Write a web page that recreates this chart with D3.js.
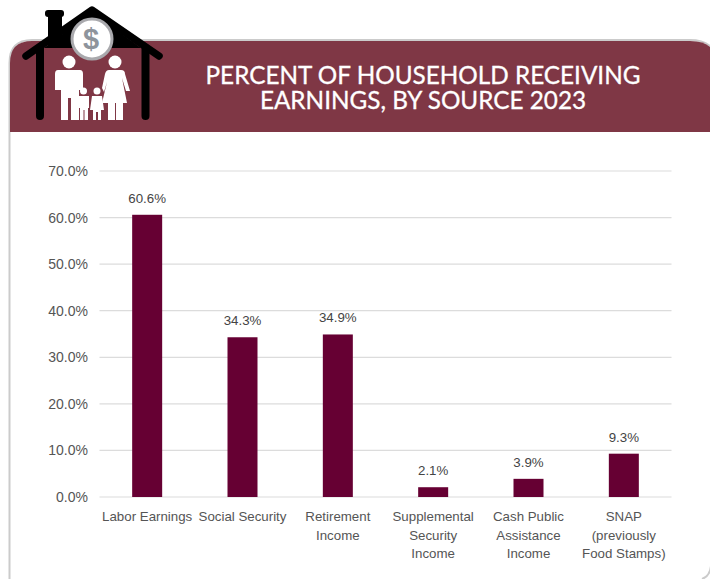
<!DOCTYPE html>
<html>
<head>
<meta charset="utf-8">
<script src="https://cdn.jsdelivr.net/npm/d3@7"></script>
<style>
  html, body { margin: 0; padding: 0; background: #fff; }
  svg { display: block; }
  text { font-family: "Liberation Sans", Arial, sans-serif; }
</style>
</head>
<body>
<div id="chart"></div>
<script>
const categories = [
  ["Labor Earnings"],
  ["Social Security"],
  ["Retirement", "Income"],
  ["Supplemental", "Security", "Income"],
  ["Cash Public", "Assistance", "Income"],
  ["SNAP", "(previously", "Food Stamps)"]
];
const values = [60.6, 34.3, 34.9, 2.1, 3.9, 9.3];
const yTicks = [0, 10, 20, 30, 40, 50, 60, 70];
const titleLines = ["PERCENT OF HOUSEHOLD RECEIVING", "EARNINGS, BY SOURCE 2023"];

const W = 710, H = 579;
const svg = d3.select("#chart").append("svg").attr("width", W).attr("height", H);

// Card with a rounded outline and a maroon header band
const cardPath = "M9.5,579 V63 Q9.5,40 32,40 H690 Q704,40 711,47 V566 Q710,576 702,579";
svg.append("path").attr("d", cardPath).attr("fill", "#fff").attr("stroke", "#cbcbcb").attr("stroke-width", 2);
svg.append("path")
  .attr("d", "M10,132 V63 Q10,41 32,41 H690 Q704,41 710,47 V132 Z")
  .attr("fill", "#7f3745");

svg.append("g").selectAll("text").data(titleLines).join("text")
  .attr("x", 423)
  .attr("y", (d, i) => 84 + i * 25)
  .attr("text-anchor", "middle")
  .attr("font-size", 24.3)
  .attr("fill", "#fff")
  .attr("stroke", "#fff")
  .attr("stroke-width", 0.3)
  .style("font-family", "Lato, sans-serif")
  .text(d => d);

// House and family emblem
const icon = svg.append("g");
icon.append("path")
  .attr("d", "M26,56 L92,10 L159,56")
  .attr("fill", "none").attr("stroke", "#000").attr("stroke-width", 7.5)
  .attr("stroke-linecap", "round").attr("stroke-linejoin", "round");
icon.append("path")
  .attr("d", "M44,48 L92,12 L141,48 H44 Z M48,15 H62 V38 L48,48 Z")
  .attr("fill", "#000");
icon.append("rect").attr("x", 45).attr("y", 10).attr("width", 19).attr("height", 7).attr("rx", 3).attr("fill", "#000");
icon.append("path").attr("d", "M40,48 V116 M145.5,48 V116")
  .attr("stroke", "#000").attr("stroke-width", 8).attr("stroke-linecap", "round");
icon.append("circle").attr("cx", 92).attr("cy", 39).attr("r", 20)
  .attr("fill", "#fff").attr("stroke", "#a9a9ad").attr("stroke-width", 3);
icon.append("text").attr("x", 91).attr("y", 49).attr("text-anchor", "middle")
  .attr("font-size", 29).attr("font-weight", 700).attr("fill", "#8e949c").text("$");

const family = icon.append("g").attr("fill", "#fff");
family.append("circle").attr("cx", 69).attr("cy", 62).attr("r", 6.5);
family.append("path").attr("d", "M58,70 H80 Q83,70 83,74 V90 H79 V120 H71 V98 H68 V120 H61 V90 H55 V74 Q55,70 58,70 Z");
family.append("circle").attr("cx", 115).attr("cy", 62).attr("r", 6.5);
family.append("path").attr("d", "M109,70 H121 Q125,70 125,74 L130,91 H126 L122,78 L127,103 H123 V120 H116 V103 H115 V120 H108 V103 H102 L107,82 L104,92 L102,88 L105,74 Q106,70 109,70 Z");
family.append("circle").attr("cx", 83.5).attr("cy", 91).attr("r", 3.5);
family.append("path").attr("d", "M78,96 H89 V108 H88 V120 H84.5 V110 H83.5 V120 H80 V108 H78 Z");
family.append("circle").attr("cx", 97).attr("cy", 91).attr("r", 3.5);
family.append("path").attr("d", "M92,96 H102 L104,110 H101 V120 H98 V112 H96 V120 H93 V110 H90 Z");

// Chart scales
const x = d3.scaleBand().domain(d3.range(values.length)).range([99.5, 671.5]);
const y = d3.scaleLinear().domain([0, 70]).range([497, 171]);
const barWidth = 30;

const grid = svg.append("g");
grid.selectAll("line").data(yTicks).join("line")
  .attr("x1", x.range()[0]).attr("x2", x.range()[1])
  .attr("y1", d => y(d)).attr("y2", d => y(d))
  .attr("stroke", "#dcdcdc").attr("stroke-width", 1.2);

const axisLabels = d3.axisLeft(y).tickValues(yTicks).tickSize(0).tickPadding(0)
  .tickFormat(d => d3.format(".1f")(d) + "%");
const yAxis = svg.append("g").attr("transform", "translate(88,0)").call(axisLabels);
yAxis.select(".domain").remove();
yAxis.selectAll("text")
  .attr("font-size", 14).attr("fill", "#555").style("font-family", "Liberation Sans, Arial, sans-serif");

svg.append("g").selectAll("rect").data(values).join("rect")
  .attr("x", (d, i) => x(i) + x.bandwidth() / 2 - barWidth / 2)
  .attr("y", d => y(d))
  .attr("width", barWidth)
  .attr("height", d => y(0) - y(d))
  .attr("fill", "#660033");

svg.append("g").selectAll("text").data(values).join("text")
  .attr("x", (d, i) => x(i) + x.bandwidth() / 2)
  .attr("y", d => y(d) - 12)
  .attr("text-anchor", "middle")
  .attr("font-size", 13.3)
  .attr("fill", "#444")
  .text(d => d3.format(".1f")(d) + "%");

const catGroups = svg.append("g").selectAll("text").data(categories).join("text")
  .attr("text-anchor", "middle")
  .attr("font-size", 13.3)
  .attr("fill", "#555");
catGroups.selectAll("tspan").data((d, i) => d.map(line => ({ line, i }))).join("tspan")
  .attr("x", d => x(d.i) + x.bandwidth() / 2)
  .attr("y", (d, j) => 521 + j * 18.5)
  .text(d => d.line);
</script>
</body>
</html>
